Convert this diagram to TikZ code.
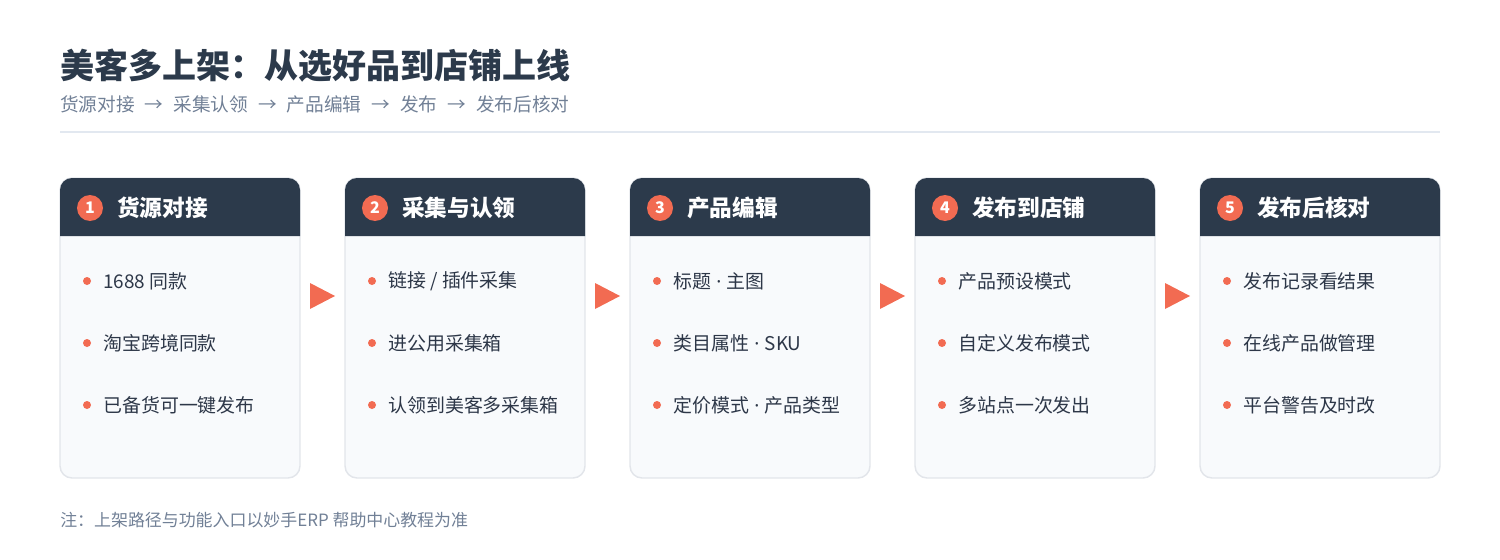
\documentclass[tikz,border=0pt]{standalone}
\usepackage{fontspec}
\setmainfont{Noto Sans CJK SC}
\newfontfamily\latinfont{Noto Sans}
\usepackage{xcolor}
\definecolor{navy}{HTML}{2C3A4B}
\definecolor{coral}{HTML}{F26B52}
\definecolor{cardbg}{HTML}{F8FAFC}
\definecolor{cardline}{HTML}{E2E5EA}
\definecolor{subgray}{HTML}{718096}
\definecolor{itemtext}{HTML}{2D3748}
\definecolor{rulegray}{HTML}{E2E8F0}
\newcommand\flowsep{\hspace{7.5pt}→\hspace{7.5pt}}
\newcommand\middot{\hspace{4pt}{\latinfont ·}\hspace{4pt}}

\begin{document}
\begin{tikzpicture}[x=0.75pt,y=-0.75pt,
  card/.style={draw=cardline,line width=1.1pt,fill=cardbg,rounded corners=9pt,
    minimum width=180pt,minimum height=225pt,inner sep=0pt},
  num/.style={circle,fill=coral,text=white,minimum size=19.5pt,inner sep=0pt,
    font=\bfseries\fontsize{12pt}{12pt}\selectfont},
  head/.style={anchor=west,text=white,inner sep=0pt,
    font=\bfseries\fontsize{17pt}{19pt}\selectfont},
  dot/.style={circle,fill=coral,minimum size=6pt,inner sep=0pt},
  item/.style={anchor=west,text=itemtext,inner sep=0pt,
    font=\fontsize{14.2pt}{16pt}\selectfont}]
  \useasboundingbox (0,0) rectangle (1500,560);
  % title block
  \node[anchor=base west,inner sep=0pt,text=navy,font=\bfseries\fontsize{25.5pt}{30pt}\selectfont]
    (title) at (60,79) {美客多上架：从选好品到店铺上线};
  \node[anchor=base west,inner sep=0pt,text=subgray,font=\fontsize{14pt}{16pt}\selectfont]
    (subtitle) at (60,112) {货源对接\flowsep 采集认领\flowsep 产品编辑\flowsep 发布\flowsep 发布后核对};
  \draw[rulegray,line width=1.1pt] (60,132) -- (1440,132);
  % cards
  \foreach \i/\head/\a/\b/\c in {
      1/货源对接/1688 同款/淘宝跨境同款/已备货可一键发布,
      2/采集与认领/{链接 / 插件采集}/进公用采集箱/认领到美客多采集箱,
      3/产品编辑/标题\middot 主图/类目属性\middot SKU/定价模式\middot 产品类型,
      4/发布到店铺/产品预设模式/自定义发布模式/多站点一次发出,
      5/发布后核对/发布记录看结果/在线产品做管理/平台警告及时改}{
    \pgfmathsetmacro\X{60+285*(\i-1)}
    \node[card] (card\i) at (\X+120,328) {};
    \fill[navy] (\X,236) [rounded corners=9pt] -- (\X,178) -- (\X+240,178)
      [sharp corners] -- (\X+240,236) -- cycle;
    \node[num] (num\i) at (\X+30,208) {\i};
    \node[head] (head\i) at (\X+57,208) {\head};
    \foreach \j/\t in {1/\a,2/\b,3/\c}{
      \node[dot] (dot\i-\j) at (\X+27,281+62*\j-62) {};
      \node[item] (item\i-\j) at (\X+43,281+62*\j-62) {\t};
    }
    \ifnum\i<5
      \fill[coral] (\X+250,283) -- (\X+275,296) -- (\X+250,309) -- cycle;
    \fi
  }
  % footnote
  \node[anchor=base west,inner sep=0pt,text=subgray,font=\fontsize{12.7pt}{14pt}\selectfont]
    (note) at (60,526) {注：上架路径与功能入口以妙手ERP 帮助中心教程为准};
\end{tikzpicture}
\end{document}
